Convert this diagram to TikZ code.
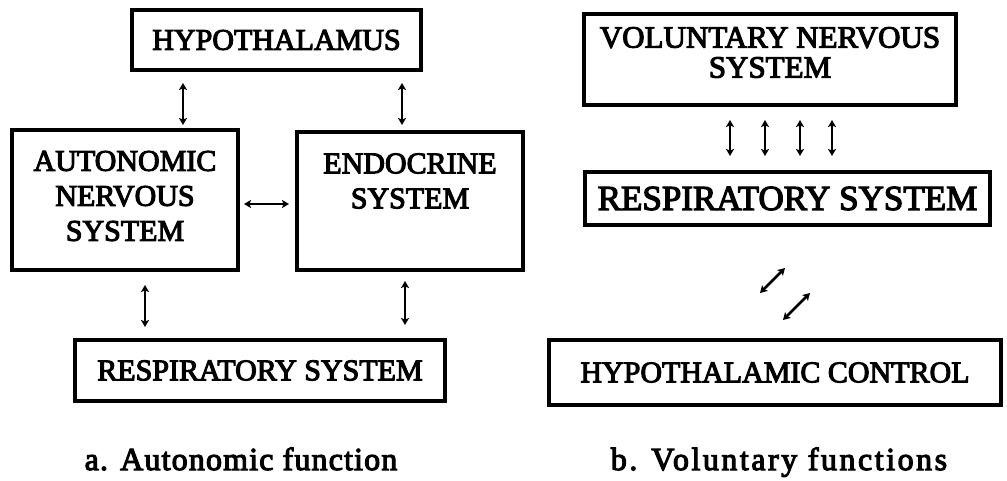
\documentclass[tikz,border=0pt]{standalone}
\usepackage{fontspec}
\setmainfont{Liberation Serif}
\newfontfamily\medfont[FakeBold=3.5]{Liberation Serif}
\usetikzlibrary{arrows.meta}
\begin{document}
\begin{tikzpicture}[x=1pt,y=-1pt,
  box/.style={draw, line width=4pt, inner sep=0pt, font=\medfont\fontsize{30}{35}\selectfont},
  txt/.style={font=\medfont\fontsize{30}{35}\selectfont, align=center},
  arr/.style={line width=2.6pt, {Stealth[length=7pt,width=8pt,inset=1.5pt]}-{Stealth[length=7pt,width=8pt,inset=1.5pt]}},
  captxt/.style={font=\medfont\fontsize{32}{36}\selectfont, anchor=base}]
\useasboundingbox (0,0) rectangle (1007,481);
% left diagram
\node[box, minimum width=289pt, minimum height=60pt] (hyp) at (276.5,40) {HYPOTHALAMUS};
\node[box, minimum width=226pt, minimum height=140pt,
  label={[txt, yshift=4pt]center:AUTONOMIC\\NERVOUS\\SYSTEM}] (auto) at (125,200) {};
\node[box, minimum width=226pt, minimum height=138pt,
  label={[txt, yshift=20pt]center:ENDOCRINE\\SYSTEM}] (endo) at (410,201) {};
\node[box, minimum width=370pt, minimum height=61pt] (resL) at (260,370.5) {RESPIRATORY SYSTEM};
\node[captxt] (capa) at (241,470) {\addfontfeatures{LetterSpace=3.6}a. Autonomic function};
\draw[arr, shorten <=11pt, shorten >=3pt] (183,0 |- hyp.south) -- (183,0 |- auto.north);
\draw[arr, shorten <=11pt, shorten >=5pt] (402,0 |- hyp.south) -- (402,0 |- endo.north);
\draw[arr, shorten <=4pt, shorten >=6pt] (auto.east |- 0,204) -- (endo.west |- 0,204);
\draw[arr, shorten <=13pt, shorten >=11pt] (145,0 |- auto.south) -- (145,0 |- resL.north);
\draw[arr, shorten <=9pt, shorten >=13pt] (405,0 |- endo.south) -- (405,0 |- resL.north);
% right diagram
\node[box, minimum width=372pt, minimum height=91pt,
  label={[txt, yshift=7pt, font=\medfont\fontsize{31}{30}\selectfont]center:VOLUNTARY NERVOUS\\SYSTEM}] (vns) at (770,59.5) {};
\node[box, minimum width=405pt, minimum height=53pt, font=\medfont\fontsize{35}{38}\selectfont] (resR) at (787.5,198.5) {RESPIRATORY SYSTEM};
\node[box, minimum width=452pt, minimum height=65pt] (hc) at (775,372.5) {HYPOTHALAMIC CONTROL};
\node[captxt] (capb) at (779,470) {\addfontfeatures{LetterSpace=7.9}b. Voluntary functions};
\foreach \x in {730,765,800,832}
  \draw[arr, shorten <=13pt, shorten >=14pt] (\x,0 |- vns.south) -- (\x,0 |- resR.north);
\coordinate (d1a) at (760,293); \coordinate (d1b) at (785,268);
\coordinate (d2a) at (783,320); \coordinate (d2b) at (810,293);
\draw[arr] (d1a) -- (d1b);
\draw[arr] (d2a) -- (d2b);
\end{tikzpicture}
\end{document}
